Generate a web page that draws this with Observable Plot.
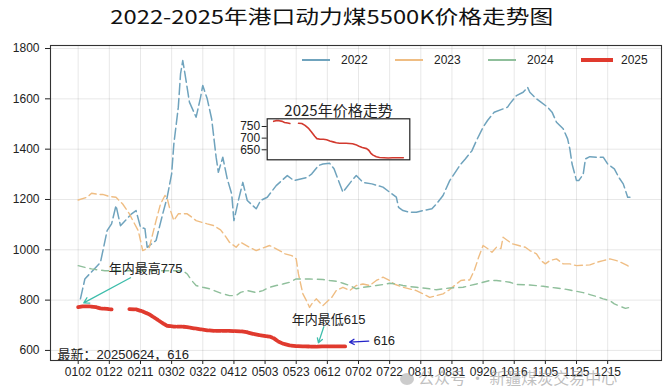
<!DOCTYPE html>
<html><head><meta charset="utf-8">
<script src="https://cdn.jsdelivr.net/npm/d3@7"></script>
<script src="https://cdn.jsdelivr.net/npm/@observablehq/plot@0.6"></script>
<style>
body{margin:0;background:#fff;}
#wrap{position:relative;width:669px;height:389px;overflow:hidden;font-family:"Liberation Sans","Noto Sans CJK SC",sans-serif;}
#title{position:absolute;left:0;top:2px;width:669px;text-align:center;font-family:"Noto Sans CJK SC",sans-serif;font-size:19px;line-height:28px;color:#111;transform:scaleX(1.25);transform-origin:345px 0;}
#main{position:absolute;left:0;top:0;}
#inset{position:absolute;left:230px;top:95px;}
#legend{position:absolute;left:0;top:0;}
.lg{position:absolute;font-size:12px;color:#222;line-height:14px;}
.ll{position:absolute;}
#wm{position:absolute;left:400px;top:367px;font-family:"Noto Sans CJK SC",sans-serif;font-size:16px;color:rgba(150,150,150,0.6);white-space:nowrap;line-height:20px;}
#wm .ic{display:inline-block;width:14px;height:12px;border-radius:50%;background:rgba(170,170,170,0.6);margin-right:4px;vertical-align:-1px;}
</style></head><body>
<div id="wrap">
  <div id="main"></div>
  <div id="title"></div>
  <div id="inset"></div>
  <div id="legend"></div>
  <div id="wm"></div>
</div>
<script>
const titleText = "2022-2025年港口动力煤5500K价格走势图";
const insetTitle = "2025年价格走势";
const seriesNames = ["2022", "2023", "2024", "2025"];
const xLabels = ["0102","0122","0211","0302","0322","0412","0503","0523","0612","0702","0722","0811","0831","0920","1016","1105","1125","1215"];
const yTicks = [600, 800, 1000, 1200, 1400, 1600, 1800];
const insetTicks = [650, 700, 750];
const latestDate = "20250624";
const watermark = "公众号 · 新疆煤炭交易中心";

// trading-day index (0 = 0102) and price
const d2022 = [1,3,10,13,15,17,19,24,26,28,30,31,35,38,40,42,43,45,46,47,48,50,53,55,56,58,60,62,63,65,67,69,70,72,74,76,80,82,85,89,94,97,103,105,108,110,113,115,119,123,125,128,132,137,140,143,144,146,149,152,155,159,161,164,167,170,172,174,177,179,182,184,187,191,193,194,197,200,202,203,206,208,211,213,215,218,220,221,222,224,225,227,228,230,233,236,238,241,243,245,247,248];
const v2022 = [805,884,950,1076,1103,1176,1096,1143,1156,1090,1084,1010,1037,1143,1209,1302,1421,1567,1699,1752,1699,1587,1527,1606,1653,1600,1520,1368,1308,1368,1282,1222,1116,1196,1268,1196,1163,1196,1209,1255,1295,1275,1288,1302,1335,1341,1344,1322,1229,1275,1295,1268,1262,1249,1229,1209,1169,1156,1149,1149,1156,1163,1182,1216,1275,1315,1341,1361,1394,1434,1487,1514,1547,1560,1567,1580,1613,1626,1646,1626,1600,1587,1567,1547,1507,1481,1441,1401,1341,1275,1275,1300,1361,1370,1368,1368,1341,1322,1288,1262,1209,1209];

const d2023 = [0,4,6,9,11,14,17,20,23,25,27,28,29,32,35,37,39,40,41,43,45,49,51,53,58,61,64,66,68,71,73,77,80,86,89,93,96,98,99,100,101,103,104,105,107,110,114,116,119,122,125,128,131,134,137,140,142,146,152,155,158,161,164,167,170,172,174,176,178,180,182,184,186,188,190,191,193,195,198,201,203,206,208,210,212,215,218,221,224,230,233,236,239,242,244,247,248];
const v2023 = [1198,1209,1225,1220,1220,1212,1209,1182,1143,1109,1076,1037,997,1010,1116,1182,1216,1205,1169,1116,1143,1143,1130,1116,1103,1096,1079,1056,1030,1010,1030,1010,997,1017,1004,984,977,964,904,864,825,791,771,785,805,778,811,838,851,838,858,864,858,878,891,878,864,851,838,825,811,818,825,842,864,878,880,880,917,970,1017,1005,990,1010,1005,1050,1037,1024,1017,1010,997,984,957,944,957,964,944,944,937,940,950,957,964,957,950,937,930];

const d2024 = [0,3,6,9,12,20,30,40,44,47,49,51,53,56,59,62,65,68,71,73,76,80,83,86,89,92,95,98,104,110,113,116,119,122,125,128,131,134,137,140,143,146,149,152,155,158,161,164,167,173,176,179,182,185,188,191,194,197,203,209,215,218,221,224,227,230,233,236,239,241,244,246,249];
const v2024 = [937,930,924,920,917,917,917,917,917,917,904,878,858,851,845,835,825,818,818,831,838,830,838,851,858,864,871,884,884,882,878,875,867,858,845,851,854,858,862,867,864,858,854,851,848,845,841,845,848,851,858,864,871,878,878,875,871,862,860,855,848,845,840,835,830,822,814,805,798,785,774,767,774];

const d2025 = [0,2,5,8,10,13,15,19,23,26,29,32,35,38,40,43,46,49,52,55,58,61,67,73,76,79,82,86,88,90,92,95,98,102,106,110,114,120];
const v2025 = [772,775,775,772,767,765,763,null,764,763,755,743,726,708,698,695,695,693,688,684,680,678,678,676,672,665,660,655,648,635,627,620,617,616,615,616,616,616];

const colors = ["#6fa3bd", "#efbd83", "#8fbf9b", "#e03a2e"];
const font = '"Liberation Sans","Noto Sans CJK SC",sans-serif';

const rows = (ds, vs) => ds.map((d, i) => ({d, v: vs[i]}));
const r2022 = rows(d2022, v2022), r2023 = rows(d2023, v2023), r2024 = rows(d2024, v2024), r2025 = rows(d2025, v2025);
const valid25 = r2025.filter(r => r.v != null);
const maxRow = valid25.reduce((a, b) => b.v > a.v ? b : a);
const minRow = valid25.reduce((a, b) => b.v < a.v ? b : a);
const lastRow = valid25[valid25.length - 1];
const tickStep = 14;
const xTickPos = xLabels.map((_, i) => i * tickStep);

document.getElementById("title").textContent = titleText;

const main = Plot.plot({
  width: 669, height: 389,
  marginTop: 45, marginBottom: 29, marginLeft: 50, marginRight: 8,
  style: {fontFamily: font, fontSize: "12px", color: "#222", background: "transparent"},
  x: {domain: [-12.45, 262.2], ticks: xTickPos, tickFormat: d => xLabels[Math.round(d / tickStep)], tickSize: 4, tickPadding: 3, grid: true, label: null},
  y: {domain: [560, 1812], ticks: yTicks, tickFormat: d => String(d), tickSize: 5, tickPadding: 6, grid: true, label: null},
  marks: [
    Plot.line(r2022, {x: "d", y: "v", stroke: colors[0], strokeWidth: 1.5, strokeDasharray: "11,4"}),
    Plot.line(r2023, {x: "d", y: "v", stroke: colors[1], strokeWidth: 1.4, strokeDasharray: "8,4"}),
    Plot.line(r2024, {x: "d", y: "v", stroke: colors[2], strokeWidth: 1.4, strokeDasharray: "7,5"}),
    Plot.line(r2025, {x: "d", y: "v", stroke: colors[3], strokeWidth: 3.8, strokeDasharray: "5,1.5"}),
    Plot.arrow([maxRow], {x1: r => r.d + 21.5, y1: r => r.v + 114, x2: r => r.d + 0.5, y2: r => r.v + 14, stroke: "#3dbdab", strokeWidth: 1.3, headLength: 7}),
    Plot.text([maxRow], {x: r => r.d + 28.3, y: r => r.v + 150, text: r => "年内最高" + r.v, fontSize: 13, fill: "#222"}),
    Plot.arrow([minRow], {x1: r => r.d + 4.4, y1: r => r.v + 79, x2: r => r.d + 2, y2: r => r.v + 15, stroke: "#3dbdab", strokeWidth: 1.3, headLength: 6}),
    Plot.text([minRow], {x: r => r.d + 6.6, y: r => r.v + 105, text: r => "年内最低" + r.v, fontSize: 13, fill: "#222"}),
    Plot.arrow([lastRow], {x1: r => r.d + 10.6, y1: r => r.v + 21, x2: r => r.d + 2, y2: r => r.v + 17, stroke: "#2323c8", strokeWidth: 1.3, headLength: 6}),
    Plot.text([lastRow], {x: r => r.d + 12.7, y: r => r.v + 21, text: r => String(r.v), textAnchor: "start", fontSize: 13, fill: "#222"}),
    Plot.text([lastRow], {frameAnchor: "bottom-left", dx: 7, dy: -2, lineAnchor: "bottom", textAnchor: "start", text: r => `最新：${latestDate}，${r.v}`, fontSize: 13, fill: "#222"}),
    Plot.frame({stroke: "#333", strokeWidth: 1.1})
  ]
});
document.getElementById("main").append(main);

const inset = Plot.plot({
  width: 185, height: 70,
  marginLeft: 36.7, marginTop: 23.3, marginRight: 5.7, marginBottom: 5.7,
  style: {fontFamily: font, fontSize: "12px", color: "#222", background: "transparent", overflow: "visible"},
  x: {domain: [-6, 126], axis: null},
  y: {domain: [607, 783], ticks: insetTicks, tickSize: 5, tickPadding: 2, label: null},
  marks: [
    Plot.frame({fill: "white", stroke: "none"}),
    Plot.line(r2025, {x: "d", y: "v", stroke: "#d2392e", strokeWidth: 1.6}),
    Plot.frame({stroke: "#222", strokeWidth: 1.2}),
    Plot.text([insetTitle], {frameAnchor: "top", lineAnchor: "bottom", dy: -3, text: d => d, fontSize: 15, fill: "#222", fontFamily: '"Noto Sans CJK SC",sans-serif'})
  ]
});
document.getElementById("inset").append(inset);

// legend
const lg = document.getElementById("legend");
seriesNames.forEach((name, i) => {
  const left = 302 + i * 93;
  const len = i === 3 ? 32 : 28;
  const w = i === 3 ? 4 : 1.4;
  const line = document.createElement("div");
  line.className = "ll";
  line.style.cssText = `left:${left}px;top:${60 - w / 2}px;width:${len}px;height:${w}px;background:${colors[i]};`;
  lg.append(line);
  const t = document.createElement("div");
  t.className = "lg";
  t.style.cssText = `left:${left + (i === 3 ? 40 : 39)}px;top:53px;`;
  t.textContent = name;
  lg.append(t);
});

const wm = document.getElementById("wm");
wm.innerHTML = '<span class="ic"></span>';
wm.append(watermark);
</script>
</body></html>
